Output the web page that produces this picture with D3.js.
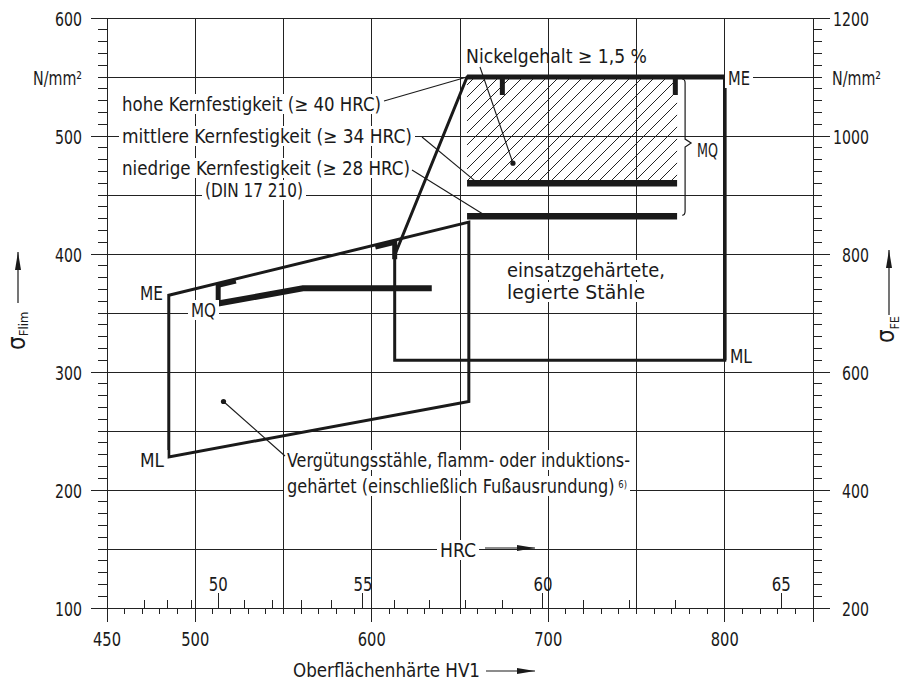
<!DOCTYPE html>
<html>
<head>
<meta charset="utf-8">
<script src="https://cdn.jsdelivr.net/npm/d3@7"></script>
<style>
body { margin: 0; background: #fff; }
text { font-family: "DejaVu Sans Condensed", "DejaVu Sans", sans-serif; fill: #1a1a1a; }
</style>
</head>
<body>
<div id="chart"></div>
<script>
// axis values
var hvLabels = [450, 500, 600, 700, 800];
var sigmaLabels = [100, 200, 300, 400, 500, 600];
var sigmaFELabels = [200, 400, 600, 800, 1000, 1200];
var hrcValues = [47, 48, 49, 50, 51, 52, 53, 54, 55, 56, 57, 58, 59, 60, 61, 62, 63, 64, 65];
var hrcHV     = [471, 484, 498, 513, 528, 544, 560, 577, 595, 613, 633, 653, 674, 697, 720, 746, 772, 800, 832];
var hrcLabels = [50, 55, 60, 65];

// Vergütungsstähle, flamm- oder induktionsgehärtet
var vergPoly = [[485, 365], [655, 427], [655, 275], [485, 228]];   // ME left, ME right, ML right, ML left
var vergMQ = [[513, 358], [561, 371], [634, 371]];
var vergMarks = [50, 56];          // HRC
var vergDot = [516, 275];

// einsatzgehärtete, legierte Stähle
var einsatzPoly = [[654, 550], [800, 550], [800, 310], [613, 310], [613, 399]];
var einsatzMarks = [59, 63];       // HRC
var kernLevels = [550, 460, 432];  // hohe, mittlere, niedrige Kernfestigkeit
var kernRange = [654, 773];
var nickelDot = [680, 477];

var kernLabels = ["hohe Kernfestigkeit (\u2265 40 HRC)", "mittlere Kernfestigkeit (\u2265 34 HRC)", "niedrige Kernfestigkeit (\u2265 28 HRC)"];

var width = 903, height = 684;
var svg = d3.select("#chart").append("svg")
    .attr("width", width)
    .attr("height", height);

var defs = svg.append("defs");
defs.append("marker")
    .attr("id", "arrow")
    .attr("viewBox", "0 0 18 7")
    .attr("refX", 18).attr("refY", 3.5)
    .attr("markerUnits", "userSpaceOnUse")
    .attr("markerWidth", 18).attr("markerHeight", 7)
    .attr("orient", "auto")
  .append("path")
    .attr("d", "M0,0.5 L18,3.5 L0,6.5 Z")
    .attr("fill", "#1a1a1a");

defs.append("pattern")
    .attr("id", "hatch")
    .attr("patternUnits", "userSpaceOnUse")
    .attr("width", 12).attr("height", 12)
  .append("path")
    .attr("d", "M-3,3 L3,-3 M0,12 L12,0 M9,15 L15,9")
    .attr("stroke", "#222")
    .attr("stroke-width", 1);

var x = d3.scaleLinear().domain([450, 850]).range([107, 813]);
var y = d3.scaleLinear().domain([100, 600]).range([608, 18]);
var yFE = d3.scaleLinear().domain([200, 1200]).range([608, 18]);
var hvOfHrc = d3.scaleLinear().domain(hrcValues).range(hrcHV);

// grid
var grid = svg.append("g")
    .attr("stroke", "#222")
    .attr("stroke-width", 1)
    .attr("shape-rendering", "crispEdges");

grid.selectAll(".gh").data(d3.range(100, 601, 50)).join("line")
    .attr("x1", x(450)).attr("x2", x(850))
    .attr("y1", y).attr("y2", y);
grid.selectAll(".gv").data(d3.range(450, 851, 50)).join("line")
    .attr("x1", x).attr("x2", x)
    .attr("y1", y(600)).attr("y2", y(100));

// left ticks
grid.selectAll(".tl").data(d3.range(100, 601, 10)).join("line")
    .attr("x1", function(d) { return x(450) - (sigmaLabels.indexOf(d) >= 0 ? 16 : 9); })
    .attr("x2", x(450))
    .attr("y1", y).attr("y2", y);
// right ticks
grid.selectAll(".tr").data(d3.range(100, 601, 10)).join("line")
    .attr("x1", x(850))
    .attr("x2", function(d) { return x(850) + (sigmaLabels.indexOf(d) >= 0 ? 17 : 9); })
    .attr("y1", y).attr("y2", y);
// bottom HV ticks
grid.selectAll(".tb").data(d3.range(450, 851, 10)).join("line")
    .attr("x1", x).attr("x2", x)
    .attr("y1", y(100))
    .attr("y2", function(d) { return y(100) + (hvLabels.indexOf(d) >= 0 || d == 850 ? 14 : 6); });
// HRC ticks
grid.selectAll(".th").data(hrcValues).join("line")
    .attr("x1", function(d) { return x(hvOfHrc(d)); })
    .attr("x2", function(d) { return x(hvOfHrc(d)); })
    .attr("y1", y(100))
    .attr("y2", function(d) { return y(100) - (hrcLabels.indexOf(d) >= 0 ? 15 : 8); });

// helper for text
function label(str, px, py, len, size, anchor, box, sup) {
  var t = svg.append("text")
      .attr("x", px).attr("y", py)
      .attr("font-size", size)
      .attr("text-anchor", anchor || "start");
  t.append("tspan").text(str);
  if (sup) t.append("tspan").attr("font-size", 10).attr("dx", 4).attr("dy", -5).text(sup);
  if (len) t.attr("textLength", len).attr("lengthAdjust", "spacingAndGlyphs");
  if (box) {
    var b = t.node().getBBox();
    svg.insert("rect", function() { return t.node(); })
        .attr("x", b.x - 3).attr("y", b.y + 1)
        .attr("width", b.width + 6).attr("height", b.height - 2)
        .attr("fill", "#fff");
  }
  return t;
}

// tick labels
sigmaLabels.forEach(function(d) { label(String(d), 82, y(d) + 8, String(d).length * 9, 19, "end"); });
label("N/mm\u00b2", 82, y(550) + 8, 49, 19, "end");
sigmaFELabels.forEach(function(d) { label(String(d), 869, yFE(d) + 8, String(d).length * 9, 19, "end"); });
label("N/mm\u00b2", 832, yFE(1100) + 8, 49, 19, "start");
hvLabels.forEach(function(d) { label(String(d), x(d), 646, 28, 19, "middle"); });
hrcLabels.forEach(function(d) { label(String(d), x(hvOfHrc(d)), 591, 19, 19, "middle"); });

// hatched area (Nickelgehalt >= 1,5 %)
svg.append("rect")
    .attr("x", x(kernRange[0])).attr("y", y(kernLevels[0]))
    .attr("width", x(kernRange[1]) - x(kernRange[0]))
    .attr("height", y(kernLevels[1]) - y(kernLevels[0]))
    .attr("fill", "url(#hatch)");

var line = d3.line().x(function(d) { return x(d[0]); }).y(function(d) { return y(d[1]); });

// Vergütungsstähle polygon
svg.append("path")
    .attr("d", line(vergPoly) + "Z")
    .attr("fill", "none").attr("stroke", "#1a1a1a").attr("stroke-width", 3)
    .attr("stroke-linejoin", "miter");
svg.append("path")
    .attr("d", line(vergMQ))
    .attr("fill", "none").attr("stroke", "#1a1a1a").attr("stroke-width", 6);

var vergME = d3.scaleLinear().domain([vergPoly[0][0], vergPoly[1][0]]).range([vergPoly[0][1], vergPoly[1][1]]);
vergMarks.forEach(function(h, i) {
  var hv = hvOfHrc(h);
  var px = x(hv), py = y(vergME(hv));
  svg.append("line")
      .attr("x1", px).attr("x2", px)
      .attr("y1", py).attr("y2", py + 19)
      .attr("stroke", "#1a1a1a").attr("stroke-width", 5);
  var hv2 = i == 0 ? hv + 10 : hv - 11;
  svg.append("line")
      .attr("x1", px).attr("y1", py + 2)
      .attr("x2", x(hv2)).attr("y2", y(vergME(hv2)) + 2)
      .attr("stroke", "#1a1a1a").attr("stroke-width", 5);
});

// einsatzgehärtete polygon
svg.append("path")
    .attr("d", line(einsatzPoly) + "Z")
    .attr("fill", "none").attr("stroke", "#1a1a1a").attr("stroke-width", 3);
svg.append("line")
    .attr("x1", x(einsatzPoly[0][0])).attr("x2", x(einsatzPoly[1][0]) + 1.5)
    .attr("y1", y(kernLevels[0])).attr("y2", y(kernLevels[0]))
    .attr("stroke", "#1a1a1a").attr("stroke-width", 5);
svg.append("line")
    .attr("x1", x(800)).attr("x2", x(800))
    .attr("y1", y(550)).attr("y2", y(310))
    .attr("stroke", "#1a1a1a").attr("stroke-width", 3.5);

kernLevels.slice(1).forEach(function(k) {
  svg.append("line")
      .attr("x1", x(kernRange[0])).attr("x2", x(kernRange[1]))
      .attr("y1", y(k)).attr("y2", y(k))
      .attr("stroke", "#1a1a1a").attr("stroke-width", 6.5);
});
einsatzMarks.forEach(function(h) {
  var px = x(hvOfHrc(h));
  svg.append("line")
      .attr("x1", px).attr("x2", px)
      .attr("y1", y(550)).attr("y2", y(550) + 18)
      .attr("stroke", "#1a1a1a").attr("stroke-width", 5);
});

// brace MQ
var bx = x(kernRange[1]) + 8, bt = y(kernLevels[0]) + 2, bb = y(kernLevels[2]) - 1, bm = (bt + bb) / 2 - 4;
svg.append("path")
    .attr("d", "M" + (bx - 3) + "," + bt + " Q" + bx + "," + bt + " " + bx + "," + (bt + 4) +
               " L" + bx + "," + (bm - 4) + " L" + (bx + 6) + "," + bm + " L" + bx + "," + (bm + 4) +
               " L" + bx + "," + (bb - 4) + " Q" + bx + "," + bb + " " + (bx - 3) + "," + bb)
    .attr("fill", "none").attr("stroke", "#1a1a1a").attr("stroke-width", 1.2);

// annotations
label("Nickelgehalt \u2265 1,5 %", 466, 63, 181, 19, "start", false);
label(kernLabels[0], 122, 111, 259, 19, "start", true);
label(kernLabels[1], 122, 143, 290, 19, "start", true);
label(kernLabels[2], 122, 175, 288, 19, "start", true);
label("(DIN 17 210)", 205, 197, 98, 19, "start", true);
label("einsatzgeh\u00e4rtete,", 507, 277, 158, 19, "start", true);
label("legierte St\u00e4hle", 507, 299, 138, 19, "start", true);
label("Verg\u00fctungsst\u00e4hle, flamm- oder induktions-", 287, 467, 343, 19, "start", true);
label("geh\u00e4rtet (einschlie\u00dflich Fu\u00dfausrundung)", 287, 493, 340, 19, "start", true, "6)");
label("ME", 140, 300, 23, 19, "start", true);
label("MQ", 191, 317, 25, 19, "start", true);
label("ML", 140, 467, 24, 19, "start", true);
label("ME", 728, 85, 22, 19, "start", true);
label("ML", 730, 363, 22, 19, "start", true);
label("MQ", 697, 157, 21, 19, "start", true);
label("HRC", 440, 557, 36, 19, "start", true);
label("Oberfl\u00e4chenh\u00e4rte HV1", 293, 677, 187, 19, "start", false);

// leader lines
var leaders = svg.append("g").attr("stroke", "#1a1a1a").attr("stroke-width", 1.1);
leaders.append("line").attr("x1", 480).attr("y1", 67).attr("x2", x(nickelDot[0])).attr("y2", y(nickelDot[1]));
leaders.append("line").attr("x1", 384).attr("y1", 101).attr("x2", x(kernRange[0])).attr("y2", y(kernLevels[0]));
leaders.append("line").attr("x1", 422).attr("y1", 137).attr("x2", x(660)).attr("y2", y(kernLevels[1]));
leaders.append("line").attr("x1", 412).attr("y1", 170).attr("x2", x(665)).attr("y2", y(kernLevels[2]));
leaders.append("line").attr("x1", 285).attr("y1", 456).attr("x2", x(vergDot[0])).attr("y2", y(vergDot[1]));
[nickelDot, vergDot].forEach(function(d) {
  svg.append("circle").attr("cx", x(d[0])).attr("cy", y(d[1])).attr("r", 2.6).attr("fill", "#1a1a1a");
});

// axis arrows
function arrow(x1, y1, x2, y2) {
  svg.append("line")
      .attr("x1", x1).attr("y1", y1).attr("x2", x2).attr("y2", y2)
      .attr("stroke", "#1a1a1a").attr("stroke-width", 1.2)
      .attr("marker-end", "url(#arrow)");
}
arrow(486, 671, 535, 671);
arrow(485, 548, 535, 548);
arrow(18, 303, 18, 252);
arrow(889, 315, 889, 250);

// sigma labels
var sl = svg.append("text").attr("transform", "translate(25,350) rotate(-90)");
sl.append("tspan").attr("font-size", 24).text("\u03c3");
sl.append("tspan").attr("font-size", 13).attr("dy", 3).text("Flim");
var sr = svg.append("text").attr("transform", "translate(894,343) rotate(-90)");
sr.append("tspan").attr("font-size", 24).text("\u03c3");
sr.append("tspan").attr("font-size", 12).attr("dy", 5).text("FE");
</script>
</body>
</html>
